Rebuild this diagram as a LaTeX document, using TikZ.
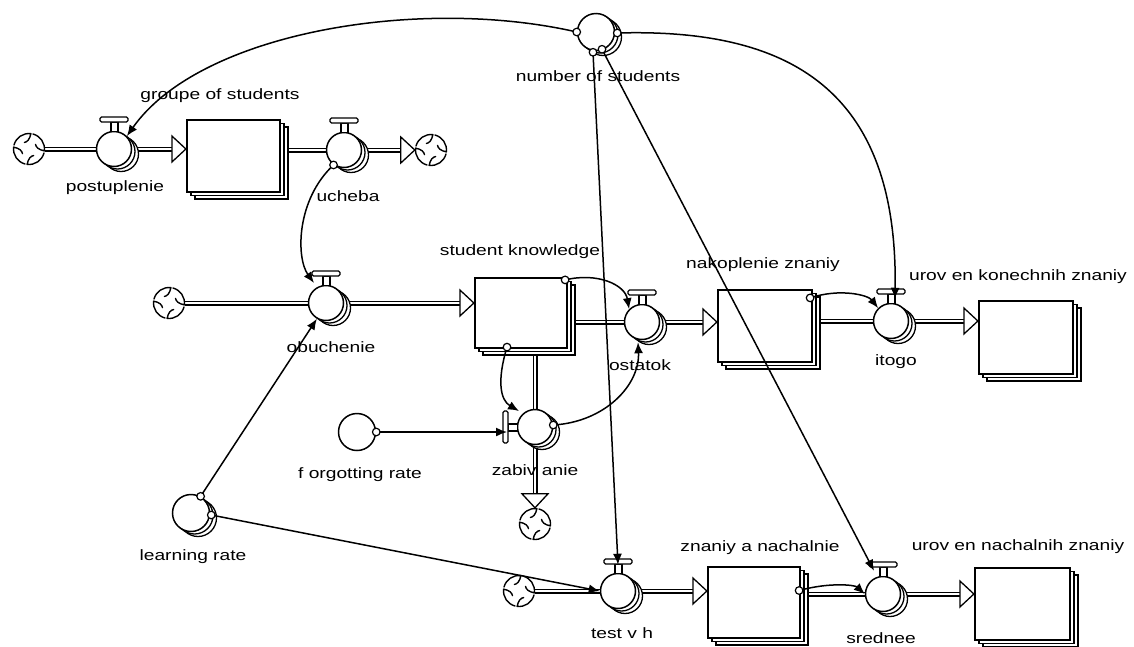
\documentclass[tikz,border=0pt]{standalone}
\usepackage{fontspec}
\setmainfont[FakeStretch=1.28]{Liberation Sans}
\usetikzlibrary{calc,arrows.meta}
\pgfdeclarelayer{back}
\pgfdeclarelayer{bg}
\pgfsetlayers{back,bg,main}
\tikzset{
  lbl/.style={font=\fontsize{15}{18}\selectfont, inner sep=0pt},
  valve/.style={circle, draw, fill=white, line width=1.5pt, minimum size=35pt, inner sep=0pt},
  conv/.style={circle, draw, fill=white, line width=1.5pt, minimum size=37pt, inner sep=0pt},
  ringsh/.style={draw, fill=white, line width=1.3pt},
  handle/.style={draw, fill=white, line width=1.3pt},
  stock/.style={rectangle, draw, fill=white, line width=2.2pt, inner sep=0pt},
  stocksh/.style={draw, fill=white, line width=1.5pt},
  cloudnode/.style={circle, fill=white, minimum size=32pt, inner sep=0pt},
  cloudline/.style={line width=1.4pt, line cap=round, line join=round},
  pipe/.style={line width=1.3pt, double=white, double distance=2.4pt},
  hollow/.style={draw, fill=white, line width=1.3pt},
  conn/.style={line width=1.5pt, -{Latex[length=11pt,width=9pt]}},
  dotm/.style={draw, fill=white, line width=1.2pt}
}
\newcommand\mkvalve[3]{%
  \draw[ringsh] (#2+7,#3+5) circle (17.5);
  \draw[ringsh] (#2+3.5,#3+2.5) circle (17.5);
  \node[valve] (#1) at (#2,#3) {};
  \draw[handle] (#2-3,#3-27) rectangle (#2+4,#3-17.3);
  \draw[handle, rounded corners=1.5pt] (#2-14,#3-32) rectangle (#2+14,#3-27);
}
\newcommand\mkvvalve[3]{%
  \draw[ringsh] (#2+7,#3+5) circle (17.5);
  \draw[ringsh] (#2+3.5,#3+2.5) circle (17.5);
  \node[valve] (#1) at (#2,#3) {};
  \draw[handle] (#2-27,#3-3) rectangle (#2-17.3,#3+4);
  \draw[handle, rounded corners=1.5pt] (#2-32,#3-16) rectangle (#2-27,#3+16);
}
\newcommand\mkconv[3]{%
  \draw[ringsh] (#2+7,#3+5) circle (18.5);
  \draw[ringsh] (#2+3.5,#3+2.5) circle (18.5);
  \node[conv] (#1) at (#2,#3) {};
}
\newcommand\mkstock[5]{%
  \draw[stocksh] (#2-#4/2+8,#3-#5/2+7) rectangle (#2+#4/2+8,#3+#5/2+7);
  \draw[stocksh] (#2-#4/2+4,#3-#5/2+3.5) rectangle (#2+#4/2+4,#3+#5/2+3.5);
  \node[stock, minimum width=#4pt, minimum height=#5pt] (#1) at (#2,#3) {};
}
\newcommand\mkcloud[3]{%
  \node[cloudnode] (#1) at (#2,#3) {};
  \foreach \a in {15,105,195,285}
    \draw[cloudline] ($(#1.center)+(\a:15.5)$) arc[start angle=\a, end angle=\a+82, radius=15.5]
      .. controls ($(#1.center)+(\a+80:10)$) and ($(#1.center)+(\a+60:7)$) .. ($(#1.center)+(\a+40:8)$);
}
\newcommand\hollowR[1]{\path[hollow] (#1) -- ++(-14,-13) -- ++(0,26) -- cycle;}
\newcommand\hollowD[1]{\path[hollow] (#1) -- ++(-13,-14) -- ++(26,0) -- cycle;}
\begin{document}
\begin{tikzpicture}[x=1pt,y=-1pt]
\useasboundingbox (0,0) rectangle (1134,646);
\begin{pgfonlayer}{back}
\fill[white] (0,0) rectangle (1134,646);
\end{pgfonlayer}

% clouds
\mkcloud{c1}{29}{149}
\mkcloud{c2}{431}{150}
\mkcloud{c3}{169}{303}
\mkcloud{c4}{535}{524}
\mkcloud{c5}{519}{591}

% stocks
\mkstock{s1}{233.5}{156}{93}{72}
\mkstock{s2}{521}{313}{92}{70}
\mkstock{s3}{765}{326}{94}{72}
\mkstock{s4}{1026}{337.5}{94}{73}
\mkstock{s5}{754}{602.5}{92}{71}
\mkstock{s6}{1022.5}{604}{95}{72}

% flows
\mkvalve{postuplenie}{114}{149}
\mkvalve{ucheba}{344}{150}
\mkvalve{obuchenie}{326}{303}
\mkvalve{ostatok}{642}{322}
\mkvalve{itogo}{891}{321}
\mkvalve{testvh}{618}{591}
\mkvalve{srednee}{883}{594}
\mkvvalve{zabivanie}{535}{427}

% converters
\mkconv{nstud}{596}{32}
\mkconv{lrate}{191}{513}
\node[conv] (forg) at (357,432) {};

% pipe end points
\coordinate (a1) at (s1.west |- postuplenie);
\coordinate (b2) at (s1.east |- ucheba);
\coordinate (a2) at (c2.west);
\coordinate (a3) at (s2.west |- obuchenie);
\coordinate (b4) at (s2.east |- ostatok);
\coordinate (a4) at (s3.west |- ostatok);
\coordinate (b5) at (s3.east |- itogo);
\coordinate (a5) at (s4.west |- itogo);
\coordinate (b6) at (zabivanie |- s2.south);
\coordinate (a6) at (c4.north);
\coordinate (a7) at (s5.west |- testvh);
\coordinate (b8) at (s5.east |- srednee);
\coordinate (a8) at (s6.west |- srednee);

\begin{pgfonlayer}{bg}
\draw[pipe] (c1.east) -- ($(a1)+(-13,0)$);
\draw[pipe] (b2) -- ($(a2)+(-13,0)$);
\draw[pipe] (c3.east) -- ($(a3)+(-13,0)$);
\draw[pipe] (b4) -- ($(a4)+(-13,0)$);
\draw[pipe] (b5) -- ($(a5)+(-13,0)$);
\draw[pipe] (b6) -- ($(a6)+(0,-13)$);
\draw[pipe] (c5.east) -- ($(a7)+(-13,0)$);
\draw[pipe] (b8) -- ($(a8)+(-13,0)$);
\end{pgfonlayer}
\hollowR{a1}
\hollowR{a2}
\hollowR{a3}
\hollowR{a4}
\hollowR{a5}
\hollowD{a6}
\hollowR{a7}
\hollowR{a8}

% connector start points
\coordinate (k1) at (nstud.west);
\coordinate (k2) at ($(nstud.east)+(2,1)$);
\coordinate (k3) at ($(nstud.south)+(-3,1)$);
\coordinate (k4) at ($(nstud.south)+(6,-2)$);
\coordinate (k5) at (ucheba.235);
\coordinate (k6) at (lrate.60);
\coordinate (k7) at ($(lrate.east)+(1,2)$);
\coordinate (k8) at ($(s2.north east)+(-3,3)$);
\coordinate (k9) at ($(s2.south)+(-14,-2)$);
\coordinate (k10) at (forg.east);
\coordinate (k11) at ($(zabivanie.east)+(0,-2)$);
\coordinate (k12) at ($(s3.north east)+(-3,9)$);
\coordinate (k13) at ($(s5.east)+(-2,-12)$);

% connectors
\draw[conn] (k1) .. controls (420,-4) and (200,32) .. (postuplenie.45);
\draw[conn] (k2) .. controls (790,28) and (898,90) .. ($(itogo.north)+(4,-4)$);
\draw[conn] (k3) -- ($(testvh.north)+(0,-8)$);
\draw[conn] (k4) -- ($(srednee.north)+(-9,-5)$);
\draw[conn] (k5) .. controls (296,200) and (296,258) .. ($(obuchenie.center)+(-12,-20)$);
\draw[conn] (k6) -- (obuchenie.240);
\draw[conn] (k7) -- (testvh.west);
\draw[conn] (k8) .. controls (598,272) and (625,285) .. (ostatok.135);
\draw[conn] (k9) .. controls (497,380) and (500,400) .. ($(zabivanie.center)+(-16,-16)$);
\draw[conn] (k10) -- ($(zabivanie.center)+(-28,5)$);
\draw[conn] (k11) .. controls (605,422) and (640,385) .. ($(ostatok.south)+(-4,2)$);
\draw[conn] (k12) .. controls (840,288) and (868,295) .. (itogo.135);
\draw[conn] (k13) .. controls (830,582) and (855,585) .. (srednee.180);
\foreach \k in {k1,k2,k3,k4,k5,k6,k7,k8,k9,k10,k11,k12,k13}
  \draw[dotm] (\k) circle (3.8);

% labels
\node[lbl] (t1) at (220,96) {groupe of  students};
\node[lbl] (t2) at (115,188) {postuplenie};
\node[lbl] (t3) at (348,196) {ucheba};
\node[lbl] (t4) at (598,76) {number of  students};
\node[lbl] (t5) at (520,252) {student knowledge};
\node[lbl] (t6) at (331,347) {obuchenie};
\node[lbl] (t7) at (763,265) {nakoplenie znaniy};
\node[lbl] (t8) at (640,365) {ostatok};
\node[lbl] (t9) at (1018,277) {urov en konechnih znaniy};
\node[lbl] (t10) at (896,362) {itogo};
\node[lbl] (t11) at (535,470) {zabiv anie};
\node[lbl] (t12) at (360,475) {f orgotting rate};
\node[lbl] (t13) at (193,557) {learning rate};
\node[lbl] (t14) at (622,633) {test v h};
\node[lbl] (t15) at (881,638) {srednee};
\node[lbl] (t16) at (760,548) {znaniy a nachalnie};
\node[lbl] (t17) at (1018,547) {urov en nachalnih znaniy};
\end{tikzpicture}
\end{document}
